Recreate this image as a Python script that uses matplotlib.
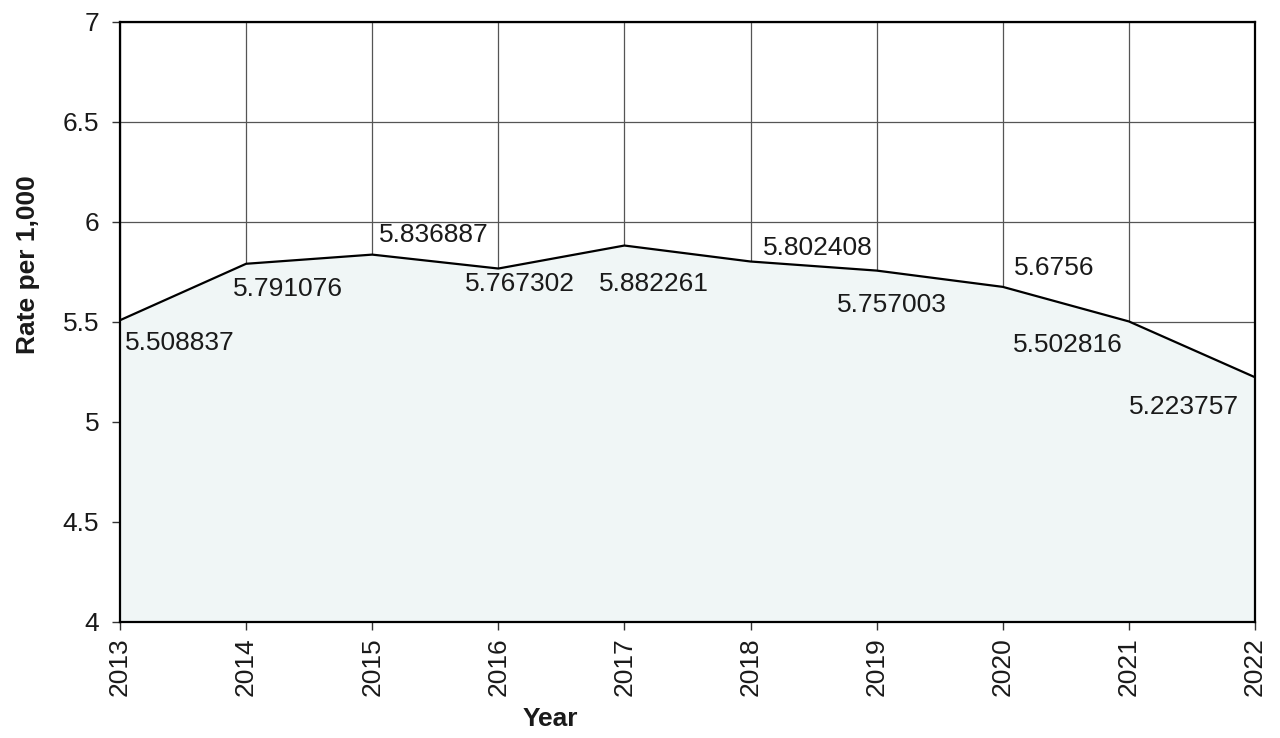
import matplotlib
matplotlib.use('Agg')
import matplotlib.pyplot as plt

years = [2013, 2014, 2015, 2016, 2017, 2018, 2019, 2020, 2021, 2022]
rates = [5.508837, 5.791076, 5.836887, 5.767302, 5.882261,
         5.802408, 5.757003, 5.6756, 5.502816, 5.223757]
labels = ['5.508837', '5.791076', '5.836887', '5.767302', '5.882261',
          '5.802408', '5.757003', '5.6756', '5.502816', '5.223757']
yticks = [4, 4.5, 5, 5.5, 6, 6.5, 7]

# label offsets from each point (pixels), placement as in the original
offsets = [(60, -23), (42, -25), (62, 20), (22, -15), (29, -38),
           (67, 14), (15, -34), (51, 19), (-61, -24), (-71, -30)]

plt.rcParams['font.family'] = ['Liberation Sans', 'DejaVu Sans']

fig = plt.figure(figsize=(12.8, 7.38), dpi=100)
ax = fig.add_axes([0.09375, 0.1572, 0.8867, 0.813])

ax.set_axisbelow(True)
ax.grid(True, color='#555555', linewidth=0.9)
ax.fill_between(years, rates, 4, color='#f0f6f6', zorder=2)
ax.plot(years, rates, color='black', linewidth=1.6, zorder=3)

for x, y, t, (dx, dy) in zip(years, rates, labels, offsets):
    ax.annotate(t, (x, y), xytext=(dx, dy), textcoords='offset pixels',
                ha='center', va='center', fontsize=19, color='#1a1a1a', zorder=4)

ax.set_xlim(2013, 2022)
ax.set_ylim(4, 7)
ax.set_xticks(years)
ax.set_xticklabels([str(y) for y in years], rotation=90, fontsize=19, color='#1a1a1a')
ax.set_yticks(yticks)
ax.set_yticklabels(['4', '4.5', '5', '5.5', '6', '6.5', '7'], fontsize=19, color='#1a1a1a')
ax.tick_params(direction='out', length=6, width=1, color='#333333')
ax.tick_params(axis='y', pad=9)
ax.tick_params(axis='x', pad=5)
for s in ax.spines.values():
    s.set_linewidth(1.6)
    s.set_color('black')
    s.set_zorder(5)

fig.text(0.022, 0.641, 'Rate per 1,000', rotation=90, ha='center', va='center',
         fontsize=19, fontweight='bold', color='#1a1a1a')
fig.text(0.43, 0.026, 'Year', ha='center', va='center',
         fontsize=19, fontweight='bold', color='#1a1a1a')

fig.savefig('out.png', dpi=100, facecolor='white')
